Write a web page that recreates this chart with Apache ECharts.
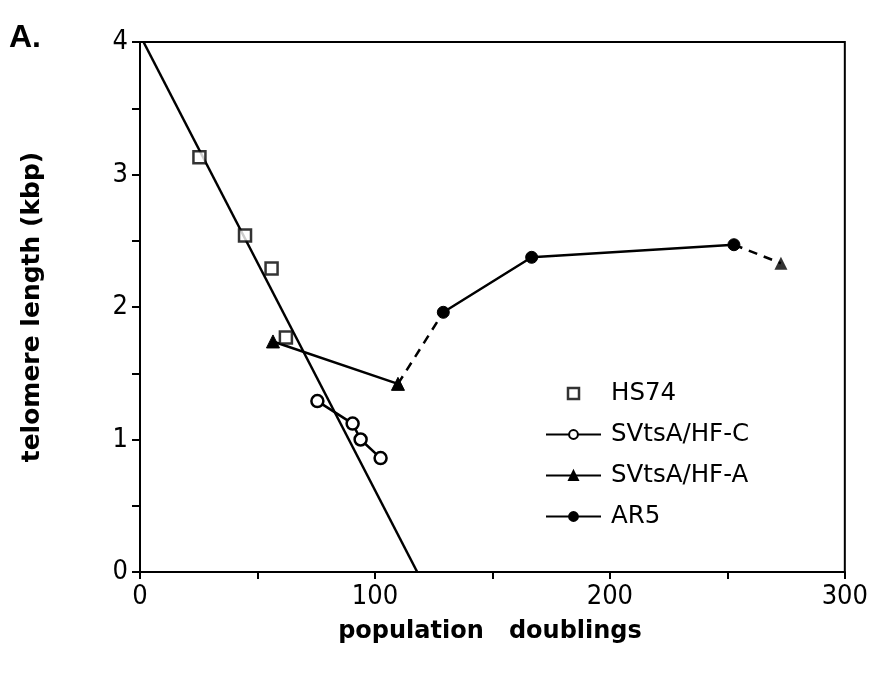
<!DOCTYPE html>
<html>
<head>
<meta charset="utf-8">
<script src="https://cdn.jsdelivr.net/npm/echarts@6/dist/echarts.min.js"></script>
<style>html,body{margin:0;padding:0;background:#fff;}#c{width:871px;height:680px;}</style>
</head>
<body>
<div id="c"></div>
<script>
// ---- data ----
const hs74X = [25.3, 44.7, 56.0, 62.1];
const hs74Y = [3.13, 2.54, 2.29, 1.77];
const fitX = [1.5, 118];
const fitY = [4, 0];
const hfcX = [75.5, 90.5, 93.9, 102.4];
const hfcY = [1.29, 1.12, 1.00, 0.86];
const hfaX = [56.6, 109.8, 272.8];
const hfaY = [1.74, 1.42, 2.33];
const ar5X = [129.1, 166.7, 252.8];
const ar5Y = [1.96, 2.375, 2.47];
const xTicks = [0, 100, 200, 300];
const yTicks = [0, 1, 2, 3, 4];
const seriesNames = ['HS74', 'SVtsA/HF-C', 'SVtsA/HF-A', 'AR5'];

const pairs = (xs, ys) => xs.map((x, i) => [x, ys[i]]);
const hs74 = pairs(hs74X, hs74Y);
const fit = pairs(fitX, fitY);
const hfc = pairs(hfcX, hfcY);
const hfa = pairs(hfaX, hfaY);
const ar5 = pairs(ar5X, ar5Y);

const chart = echarts.init(document.getElementById('c'), null, {renderer: 'canvas'});
const tickFont = 'DejaVu Sans Condensed';
const lineW = 2.5;
const black = '#000';
const squarePath = 'path://M0,0H10V10H0Z';

chart.setOption({
  animation: false,
  backgroundColor: '#fff',
  grid: {left: 140, right: 26, top: 42, bottom: 108, show: true, borderColor: black, borderWidth: 2},
  xAxis: {
    type: 'value', min: 0, max: 300, interval: 50,
    axisLine: {show: true, lineStyle: {color: black, width: 2}},
    axisTick: {show: true, length: 7, lineStyle: {color: black, width: 2}},
    splitLine: {show: false},
    axisLabel: {
      color: black, fontFamily: tickFont, fontSize: 27, margin: 11,
      formatter: v => xTicks.includes(v) ? String(v) : ''
    }
  },
  yAxis: {
    type: 'value', min: 0, max: 4, interval: 0.5,
    axisLine: {show: true, lineStyle: {color: black, width: 2}},
    axisTick: {show: true, length: 8, lineStyle: {color: black, width: 2}},
    splitLine: {show: false},
    axisLabel: {
      color: black, fontFamily: tickFont, fontSize: 27, margin: 12,
      formatter: v => yTicks.includes(v) ? String(v) : ''
    }
  },
  legend: {
    data: [
      {name: seriesNames[0], icon: squarePath, itemStyle: {color: '#fff', borderColor: black, borderWidth: 2.5}},
      {name: seriesNames[1]},
      {name: seriesNames[2]},
      {name: seriesNames[3]}
    ],
    orient: 'vertical',
    left: 545, top: 381, padding: 0,
    itemWidth: 55, itemHeight: 11, itemGap: 16,
    textStyle: {color: black, fontFamily: 'DejaVu Sans', fontSize: 24.5, lineHeight: 24, padding: [0, 0, 0, 5]},
    selectedMode: false
  },
  graphic: [
    {type: 'text', left: 9, top: 22, style: {text: 'A.', font: 'bold 32px "Liberation Sans"', fill: black}},
    {type: 'text', x: 32, y: 307, rotation: Math.PI / 2,
     style: {text: 'telomere length (kbp)', font: 'bold 25px "DejaVu Sans"', fill: black, textAlign: 'center', textVerticalAlign: 'middle'}},
    {type: 'text', x: 490, y: 632,
     style: {text: 'population   doublings', font: 'bold 24px "DejaVu Sans"', fill: black, textAlign: 'center', textVerticalAlign: 'middle'}}
  ],
  series: [
    {name: 'fit', type: 'line', data: fit, showSymbol: false, silent: true,
     lineStyle: {color: black, width: lineW}, z: 2},
    {name: 'HS74', type: 'scatter', data: hs74, symbol: 'rect', symbolSize: 12,
     itemStyle: {color: '#fff', borderColor: black, borderWidth: 2.5}, z: 5},
    {name: 'SVtsA/HF-C', type: 'line', data: hfc, symbol: 'circle', symbolSize: 12, showSymbol: true,
     lineStyle: {color: black, width: lineW},
     itemStyle: {color: '#fff', borderColor: black, borderWidth: 2.5}, z: 5},
    {name: 'SVtsA/HF-A', type: 'line', data: hfa.slice(0, 2), symbol: 'triangle', symbolSize: 13, showSymbol: true,
     lineStyle: {color: black, width: lineW},
     itemStyle: {color: black, borderColor: black, borderWidth: 1}, z: 5},
    {name: 'hfa-extra', type: 'scatter', data: hfa.slice(2), symbol: 'triangle', symbolSize: 13,
     itemStyle: {color: black}, z: 5},
    {name: 'AR5', type: 'line', data: ar5, symbol: 'circle', symbolSize: 12, showSymbol: true,
     lineStyle: {color: black, width: lineW},
     itemStyle: {color: black, borderColor: black, borderWidth: 1}, z: 5},
    {name: 'link1', type: 'line', data: [hfa[1], ar5[0]], showSymbol: false, silent: true,
     lineStyle: {color: black, width: lineW, type: [9, 7]}, z: 3},
    {name: 'link2', type: 'line', data: [ar5[2], hfa[2]], showSymbol: false, silent: true,
     lineStyle: {color: black, width: lineW, type: [9, 7]}, z: 3}
  ]
});
</script>
</body>
</html>
